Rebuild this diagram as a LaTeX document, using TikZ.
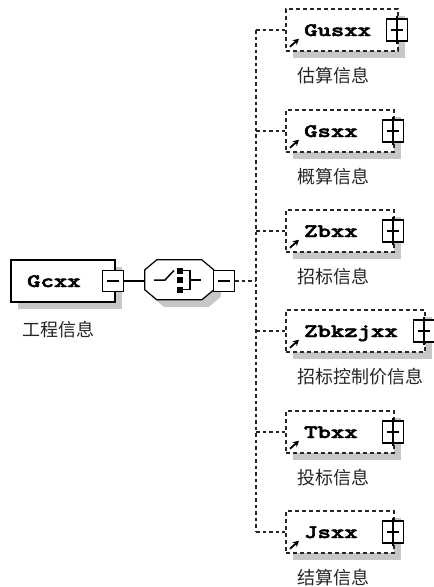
\documentclass[tikz,border=0pt]{standalone}
\usepackage{fontspec}
\usepackage{graphicx}
\newfontfamily\cjk{Noto Sans CJK SC}
\newfontfamily\codefont{lmmonolt10-bold.otf}[FakeBold=2.5]
\usetikzlibrary{arrows.meta,shadows,calc}
\newcommand\xcode[1]{\scalebox{1.34}[1]{\fontsize{19}{19}\selectfont\codefont #1}}
\tikzset{
  shadowed/.style={general shadow={fill=black!22, shadow xshift=7pt, shadow yshift=-7pt}},
  mainbox/.style={draw=black, line width=1.2pt, fill=white, minimum height=42pt, inner sep=0pt, shadowed},
  refbox/.style={draw=black!85, dash pattern=on 4pt off 3pt, line width=1.5pt, fill=white, minimum height=42pt, inner sep=0pt, shadowed},
  pm/.style={draw=black, fill=white, line width=1.1pt, minimum width=21pt, minimum height=21pt, inner sep=0pt},
  pmline/.style={line width=1.1pt, black},
  conn/.style={draw=black!85, line width=1.3pt, dash pattern=on 3.5pt off 3pt},
  solidconn/.style={draw=black, line width=1.1pt},
  lab/.style={anchor=west, inner sep=0pt, font=\fontsize{18}{18}\selectfont\cjk, text=black!85},
  codetext/.style={anchor=base west, inner sep=0pt},
  refarrow/.style={-{Stealth[length=6pt,width=6.5pt]}, line width=1.8pt, black}
}
\begin{document}
\begin{tikzpicture}[x=1pt,y=-1pt]
\fill[white] (0,0) rectangle (434,587);
\useasboundingbox (0,0) rectangle (434,587);

% vertical dashed bus
\coordinate (vtop) at (256,30);
\coordinate (vbot) at (256,532);
\draw[conn] (vtop) -- (vbot);

% root element
\node[mainbox, minimum width=104pt] (gc) at (63,281) {};
\node[codetext] (gc-t) at (27,287) {\xcode{Gcxx}};
\node[pm] (gcm) at (113,281) {};
\draw[pmline] ([xshift=-6pt]gcm.center) -- ([xshift=6pt]gcm.center);
\node[lab] (gc-l) at (22,330) {工程信息};

% sequence compositor
\node[minimum width=69pt, minimum height=40pt, inner sep=0pt] (seq) at (179.5,280) {};
\fill[black!22] ([shift={(7pt,-7pt)}]seq.north west) ++(12pt,0)
  -- ++(45pt,0) -- ++(12pt,-10pt) -- ++(0,-20pt) -- ++(-12pt,-10pt)
  -- ++(-45pt,0) -- ++(-12pt,10pt) -- ++(0,20pt) -- cycle;
\draw[line width=1.2pt, fill=white] (seq.north west) ++(12pt,0)
  -- ++(45pt,0) -- ++(12pt,-10pt) -- ++(0,-20pt) -- ++(-12pt,-10pt)
  -- ++(-45pt,0) -- ++(-12pt,10pt) -- ++(0,20pt) -- cycle;
% sequence icon
\draw[line width=1.5pt] (154,280) -- (165,280) -- (174,270.5);
\fill (177,267.5) rectangle (183,273.5);
\fill (177,277) rectangle (183,283);
\fill (177,286.5) rectangle (183,292.5);
\draw[line width=1.5pt] (183,270.5) -- (190,270.5) -- (190,289.5) -- (183,289.5);
\draw[line width=1.5pt] (190,280) -- (201,280);
\node[pm] (seqm) at (224,281) {};
\draw[pmline] ([xshift=-6pt]seqm.center) -- ([xshift=6pt]seqm.center);

\draw[solidconn] (gcm.east) -- (gcm.east -| seq.west);
\draw[conn] (seqm.east) -- (seqm.east -| vtop);

% children
\foreach \n/\t/\w/\y/\l in {gus/Gusxx/112/30/估算信息, gs/Gsxx/108/131/概算信息, zb/Zbxx/108/231/招标信息, zbk/Zbkzjxx/139/331/招标控制价信息, tb/Tbxx/108/432/投标信息, js/Jsxx/108/532/结算信息}{
  \draw[conn] (256,\y) -- (285,\y);
  \node[refbox, minimum width=\w pt, anchor=west] (\n) at (285,\y) {};
  \node[codetext] (\n-t) at (304,\y+6) {\xcode{\t}};
  \node[pm, minimum height=22pt] (\n-p) at ([xshift=-1.5pt]\n.east) {};
  \draw[pmline] ([xshift=-6pt]\n-p.center) -- ([xshift=6pt]\n-p.center);
  \draw[pmline] ([yshift=2.5pt]\n-p.north) -- ([yshift=-2.5pt]\n-p.south);
  \draw[refarrow] ([shift={(5pt,5pt)}]\n.south west) -- ([shift={(14pt,13pt)}]\n.south west);
  \node[lab] (\n-l) at (297,\y+46) {\l};
}
\end{tikzpicture}
\end{document}
